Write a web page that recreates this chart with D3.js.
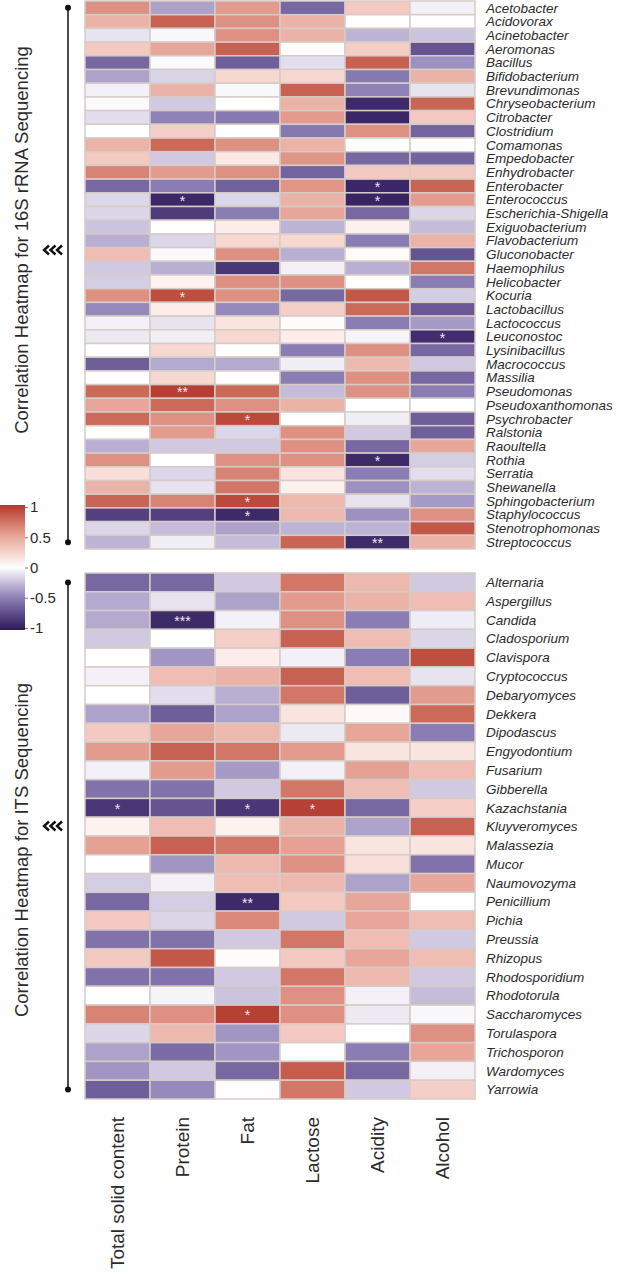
<!DOCTYPE html>
<html>
<head>
<meta charset="utf-8">
<script src="https://cdn.jsdelivr.net/npm/d3@7"></script>
<style>
  body { margin: 0; background: #fff; }
  text { font-family: "Liberation Sans", Arial, sans-serif; }
</style>
</head>
<body>
<div id="chart"></div>
<script>
// columns (milk traits)
const traits = ["Total solid content", "Protein", "Fat", "Lactose", "Acidity", "Alcohol"];

// 16S genera
const bacteria = ["Acetobacter", "Acidovorax", "Acinetobacter", "Aeromonas", "Bacillus", "Bifidobacterium",
  "Brevundimonas", "Chryseobacterium", "Citrobacter", "Clostridium", "Comamonas", "Empedobacter",
  "Enhydrobacter", "Enterobacter", "Enterococcus", "Escherichia-Shigella", "Exiguobacterium",
  "Flavobacterium", "Gluconobacter", "Haemophilus", "Helicobacter", "Kocuria", "Lactobacillus",
  "Lactococcus", "Leuconostoc", "Lysinibacillus", "Macrococcus", "Massilia", "Pseudomonas",
  "Pseudoxanthomonas", "Psychrobacter", "Ralstonia", "Raoultella", "Rothia", "Serratia", "Shewanella",
  "Sphingobacterium", "Staphylococcus", "Stenotrophomonas", "Streptococcus"];

// correlation values, one row per genus, columns in traits order
const bacteriaValues = [
  [0.6, -0.35, 0.55, -0.6, 0.3, -0.05],
  [0.43, 0.82, 0.6, 0.43, 0.0, 0.01],
  [-0.1, -0.03, 0.6, 0.43, -0.28, -0.22],
  [0.3, 0.5, 0.82, 0.02, 0.28, -0.7],
  [-0.6, -0.02, -0.65, -0.12, 0.82, -0.42],
  [-0.35, -0.16, 0.22, 0.22, -0.52, 0.43],
  [-0.05, 0.43, -0.03, 0.82, -0.48, -0.1],
  [-0.02, -0.2, 0.0, 0.43, -0.92, 0.8],
  [-0.12, -0.48, -0.52, 0.55, -0.93, 0.3],
  [0.0, 0.27, 0.0, -0.52, 0.6, -0.62],
  [0.43, 0.78, 0.6, 0.43, 0.0, 0.0],
  [0.3, -0.2, 0.12, 0.58, -0.6, -0.62],
  [0.66, 0.55, 0.6, -0.62, 0.3, 0.3],
  [-0.6, -0.5, -0.63, 0.58, -0.93, 0.8],
  [-0.15, -0.93, -0.15, 0.43, -0.95, 0.55],
  [-0.15, -0.82, -0.5, 0.5, -0.6, -0.15],
  [-0.22, 0.0, 0.1, -0.28, 0.08, -0.25],
  [-0.3, -0.15, 0.22, 0.22, -0.5, 0.43],
  [0.37, -0.02, 0.6, -0.3, 0.02, -0.7],
  [-0.2, -0.3, -0.85, -0.05, -0.3, 0.72],
  [-0.18, 0.07, 0.6, 0.6, 0.0, -0.5],
  [0.6, 0.9, 0.6, -0.6, 0.86, -0.18],
  [-0.45, 0.1, -0.45, 0.27, 0.78, -0.68],
  [-0.05, -0.1, 0.15, 0.02, -0.5, -0.38],
  [-0.08, -0.06, 0.22, 0.1, -0.04, -0.9],
  [0.0, 0.22, 0.0, -0.5, 0.6, -0.6],
  [-0.65, -0.32, -0.32, -0.06, 0.4, -0.2],
  [0.0, 0.22, 0.0, -0.5, 0.6, -0.6],
  [0.78, 0.97, 0.78, -0.25, 0.6, -0.5],
  [0.5, 0.78, 0.6, 0.43, 0.0, 0.0],
  [0.78, 0.6, 0.92, 0.0, -0.06, -0.65],
  [0.0, 0.55, -0.15, 0.6, -0.2, -0.65],
  [-0.3, -0.2, -0.2, 0.6, -0.6, 0.5],
  [0.6, 0.0, 0.6, 0.6, -0.92, -0.18],
  [0.18, -0.15, 0.66, 0.15, -0.5, -0.12],
  [0.43, -0.1, 0.72, 0.08, -0.42, -0.28],
  [0.8, 0.66, 0.92, 0.4, -0.1, -0.38],
  [-0.8, -0.8, -0.92, 0.4, -0.42, 0.6],
  [-0.15, -0.25, -0.35, -0.28, -0.28, 0.86],
  [-0.28, -0.06, -0.25, 0.8, -0.92, 0.43]
];

// significance marks: [genus, trait, label]
const bacteriaStars = [
  ["Enterobacter", "Acidity", "*"], ["Enterococcus", "Protein", "*"], ["Enterococcus", "Acidity", "*"],
  ["Kocuria", "Protein", "*"], ["Leuconostoc", "Alcohol", "*"], ["Pseudomonas", "Protein", "**"],
  ["Psychrobacter", "Fat", "*"], ["Rothia", "Acidity", "*"], ["Sphingobacterium", "Fat", "*"],
  ["Staphylococcus", "Fat", "*"], ["Streptococcus", "Acidity", "**"]
];

// ITS genera
const fungi = ["Alternaria", "Aspergillus", "Candida", "Cladosporium", "Clavispora", "Cryptococcus",
  "Debaryomyces", "Dekkera", "Dipodascus", "Engyodontium", "Fusarium", "Gibberella", "Kazachstania",
  "Kluyveromyces", "Malassezia", "Mucor", "Naumovozyma", "Penicillium", "Pichia", "Preussia",
  "Rhizopus", "Rhodosporidium", "Rhodotorula", "Saccharomyces", "Torulaspora", "Trichosporon",
  "Wardomyces", "Yarrowia"];

const fungiValues = [
  [-0.6, -0.6, -0.2, 0.72, 0.4, -0.2],
  [-0.32, -0.1, -0.35, 0.55, 0.43, 0.37],
  [-0.32, -0.92, -0.05, 0.6, -0.5, -0.07],
  [-0.2, 0.0, 0.27, 0.82, 0.37, -0.15],
  [0.0, -0.4, 0.1, -0.05, -0.5, 0.9],
  [-0.05, 0.37, 0.43, 0.82, 0.37, -0.1],
  [0.0, -0.12, -0.3, 0.72, -0.65, 0.55],
  [-0.35, -0.65, -0.35, 0.15, 0.04, 0.78],
  [0.3, 0.5, 0.4, -0.08, 0.5, -0.5],
  [0.55, 0.82, 0.72, 0.55, 0.15, 0.15],
  [-0.05, 0.55, -0.38, -0.05, 0.52, 0.37],
  [-0.55, -0.55, -0.2, 0.72, 0.37, -0.2],
  [-0.85, -0.7, -0.85, 0.96, -0.6, 0.27],
  [0.07, 0.37, 0.07, 0.43, -0.35, 0.82],
  [0.52, 0.82, 0.72, 0.52, 0.15, 0.15],
  [0.0, -0.4, 0.4, 0.6, 0.18, -0.55],
  [-0.18, -0.05, 0.37, 0.4, -0.35, 0.5],
  [-0.6, -0.18, -0.92, 0.3, 0.5, 0.0],
  [0.3, -0.15, 0.64, -0.2, 0.5, 0.37],
  [-0.55, -0.55, -0.2, 0.72, 0.37, -0.2],
  [0.3, 0.86, 0.02, 0.3, 0.5, 0.37],
  [-0.55, -0.55, -0.2, 0.72, 0.4, -0.2],
  [0.0, -0.04, -0.22, 0.6, -0.05, -0.25],
  [0.66, 0.6, 0.96, 0.6, -0.08, -0.03],
  [-0.15, 0.4, -0.4, 0.3, 0.0, 0.6],
  [-0.35, -0.58, -0.4, 0.01, -0.5, 0.5],
  [-0.4, -0.2, -0.6, 0.84, -0.6, -0.05],
  [-0.65, -0.45, 0.01, 0.72, -0.2, 0.27]
];

const fungiStars = [
  ["Candida", "Protein", "***"], ["Kazachstania", "Total solid content", "*"],
  ["Kazachstania", "Fat", "*"], ["Kazachstania", "Lactose", "*"],
  ["Penicillium", "Fat", "**"], ["Saccharomyces", "Fat", "*"]
];

// legend ticks
const legendTicks = [1, 0.5, 0, -0.5, -1];

const panelTitles = ["Correlation Heatmap for 16S rRNA Sequencing", "Correlation Heatmap for ITS Sequencing"];

const W = 619, H = 1275;

const svg = d3.select("#chart").append("svg")
  .attr("width", W)
  .attr("height", H);

// colour scale: purple - white - red
const color = d3.scaleLinear()
  .domain([-1, -0.5, 0, 0.5, 1])
  .range(["#2f1b5c", "#8a7db4", "#ffffff", "#e7a699", "#b2362c"])
  .interpolate(d3.interpolateLab);

const x = d3.scaleBand()
  .domain(traits)
  .range([85, 475]);

function drawPanel(rows, values, stars, y0, y1, title, titleY, chevY) {
  const y = d3.scaleBand().domain(rows).range([y0, y1]);

  const cells = [];
  rows.forEach((r, i) => traits.forEach((t, j) => cells.push({ row: r, trait: t, v: values[i][j] })));

  const g = svg.append("g");

  g.selectAll("rect")
    .data(cells)
    .enter().append("rect")
    .attr("x", d => x(d.trait))
    .attr("y", d => y(d.row))
    .attr("width", x.bandwidth())
    .attr("height", y.bandwidth())
    .attr("fill", d => color(d.v))
    .attr("stroke", "#d6ccc7")
    .attr("stroke-width", 1.5);

  // stars
  g.selectAll(".star")
    .data(stars)
    .enter().append("text")
    .attr("class", "star")
    .attr("x", d => x(d[1]) + x.bandwidth() / 2)
    .attr("y", d => y(d[0]) + y.bandwidth() / 2 + 6)
    .attr("text-anchor", "middle")
    .style("font-size", "14px")
    .style("fill", "#f1e8f0")
    .text(d => d[2]);

  // row labels
  g.selectAll(".lab")
    .data(rows)
    .enter().append("text")
    .attr("class", "lab")
    .attr("x", 486)
    .attr("y", d => y(d) + y.bandwidth() / 2)
    .attr("dy", "0.35em")
    .style("font-size", "13.5px")
    .style("font-style", "italic")
    .style("fill", "#2b2b2b")
    .text(d => d);

  // bracket on the left
  const ya = y(rows[0]) + y.bandwidth() / 2;
  const yb = y(rows[rows.length - 1]) + y.bandwidth() / 2;
  g.append("line")
    .attr("x1", 68).attr("x2", 68)
    .attr("y1", ya).attr("y2", yb)
    .attr("stroke", "#111")
    .attr("stroke-width", 1.5);
  g.selectAll(".dot")
    .data([ya, yb])
    .enter().append("circle")
    .attr("cx", 68)
    .attr("cy", d => d)
    .attr("r", 3)
    .attr("fill", "#111");

  // chevrons
  [44, 50.5, 57].forEach(cx => {
    g.append("path")
      .attr("d", `M${cx + 5},${chevY - 4.5}L${cx},${chevY}L${cx + 5},${chevY + 4.5}`)
      .attr("fill", "none")
      .attr("stroke", "#111")
      .attr("stroke-width", 2.4);
  });

  // vertical title
  g.append("text")
    .attr("transform", `translate(28,${titleY}) rotate(-90)`)
    .attr("text-anchor", "middle")
    .style("font-size", "18.5px")
    .style("fill", "#2b2b2b")
    .text(title);
}

drawPanel(bacteria, bacteriaValues, bacteriaStars, 1, 549, panelTitles[0], 240, 250);
drawPanel(fungi, fungiValues, fungiStars, 573, 1099, panelTitles[1], 850, 826);

// column labels at the bottom
svg.selectAll(".col")
  .data(traits)
  .enter().append("text")
  .attr("class", "col")
  .attr("transform", d => `translate(${x(d) + x.bandwidth() / 2 + 6.5},1117) rotate(-90)`)
  .attr("text-anchor", "end")
  .style("font-size", "19px")
  .style("fill", "#2b2b2b")
  .text(d => d);

// legend
const ly = d3.scaleLinear().domain([1, -1]).range([507, 628]);

const grad = svg.append("defs").append("linearGradient")
  .attr("id", "lg")
  .attr("x1", 0).attr("x2", 0).attr("y1", 0).attr("y2", 1);
d3.range(0, 21).forEach(i => {
  const v = 1 - i / 10;
  grad.append("stop").attr("offset", (i / 20 * 100) + "%").attr("stop-color", color(v));
});

svg.append("rect")
  .attr("x", 0)
  .attr("y", ly(1) - 2)
  .attr("width", 25)
  .attr("height", ly(-1) - ly(1) + 4)
  .attr("fill", "url(#lg)");

const legAxis = svg.append("g")
  .attr("transform", "translate(25,0)")
  .call(d3.axisRight(ly).tickValues(legendTicks).tickSize(3).tickFormat(d => String(d)));
legAxis.select(".domain").remove();
legAxis.selectAll("line").attr("stroke", "#777");
legAxis.selectAll("text")
  .attr("x", 5)
  .style("font-size", "15px")
  .style("font-family", "'Liberation Sans', Arial, sans-serif")
  .style("fill", "#2b2b2b");
</script>
</body>
</html>
